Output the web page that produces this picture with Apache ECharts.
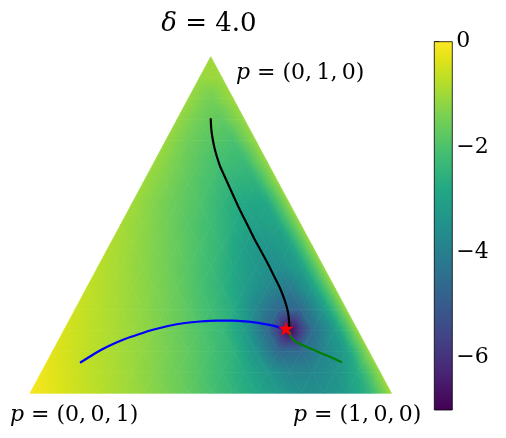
<!DOCTYPE html>
<html><head><meta charset="utf-8">
<script src="https://cdn.jsdelivr.net/npm/echarts@6/dist/echarts.min.js"></script>
<style>html,body{margin:0;padding:0;background:#fff}#c{width:506px;height:438px}</style>
</head><body><div id="c"></div>
<script>
// ---- data ----
const N = 16; // grid subdivisions of the simplex
// field values (log scale) on barycentric grid; row j => p2=j/N (bottom to top), entry i => p1=i/N
const fieldRows = [
 [-0.05,-0.3,-0.55,-0.75,-0.95,-1.15,-1.4,-1.7,-2.05,-2.45,-2.85,-3.25,-3.55,-3.55,-3.2,-2.5,-0.95],
 [-0.2,-0.44,-0.66,-0.86,-1.06,-1.3,-1.58,-1.9,-2.3,-2.75,-3.3,-3.85,-3.8,-3.5,-2.7,-1.1],
 [-0.33,-0.57,-0.77,-0.97,-1.17,-1.42,-1.72,-2.07,-2.5,-3.4,-4.6,-4.55,-3.85,-3.1,-1.1],
 [-0.45,-0.66,-0.86,-1.07,-1.3,-1.6,-1.93,-2.3,-3.15,-4.6,-7.0,-4.5,-3.25,-1.1],
 [-0.55,-0.77,-0.97,-1.2,-1.47,-1.8,-2.2,-2.7,-3.8,-4.65,-4.55,-3.25,-1.1],
 [-0.65,-0.87,-1.08,-1.33,-1.63,-2.05,-2.5,-3.15,-3.75,-4.15,-3.15,-1.1],
 [-0.75,-0.97,-1.22,-1.5,-1.85,-2.25,-2.8,-3.35,-3.6,-3.1,-1.1],
 [-0.85,-1.08,-1.35,-1.65,-2.02,-2.45,-3.1,-3.4,-3.05,-1.1],
 [-0.93,-1.2,-1.5,-1.85,-2.2,-2.7,-3.1,-2.9,-1.1],
 [-1.0,-1.33,-1.65,-1.95,-2.45,-2.85,-2.85,-1.1],
 [-1.05,-1.37,-1.75,-2.1,-2.5,-2.55,-1.1],
 [-1.08,-1.45,-1.85,-2.15,-2.3,-1.1],
 [-1.1,-1.55,-1.85,-2.05,-1.1],
 [-1.1,-1.55,-1.75,-1.1],
 [-1.1,-1.5,-1.05],
 [-1.1,-1.05],
 [-1.0]
];
// trajectories as [p1, p2] (p3 = 1 - p1 - p2)
const blackPath = [[0.0914,0.8170],[0.1071,0.7882],[0.1256,0.7585],[0.1460,0.7288],[0.1663,0.7020],[0.1879,0.6753],[0.2124,0.6485],[0.2397,0.6188],[0.2698,0.5862],[0.3000,0.5535],[0.3316,0.5208],[0.3631,0.4881],[0.3947,0.4554],[0.4305,0.4198],[0.4663,0.3841],[0.5007,0.3485],[0.5323,0.3158],[0.5582,0.2861],[0.5798,0.2594],[0.5967,0.2356],[0.6091,0.2148],[0.6185,0.1970],[0.6131,0.1901]];
const bluePath = [[0.0929,0.0909],[0.1113,0.1093],[0.1300,0.1272],[0.1543,0.1450],[0.1821,0.1613],[0.2114,0.1747],[0.2459,0.1887],[0.2818,0.1999],[0.3243,0.2089],[0.3636,0.2133],[0.4094,0.2157],[0.4509,0.2157],[0.4878,0.2139],[0.5260,0.2094],[0.5563,0.2041],[0.5810,0.1990],[0.6006,0.1931],[0.6131,0.1901]];
const greenPath = [[0.6131,0.1901],[0.6268,0.1821],[0.6355,0.1702],[0.6498,0.1583],[0.6667,0.1494],[0.7010,0.1361],[0.7419,0.1206],[0.7825,0.1058],[0.8170,0.0921]];
const starPoint = [0.6131, 0.1901];
const colorbarTicks = [0, -2, -4, -6];
const vmin = -7, vmax = 0;
const titleText = '{i|δ} = 4.0';
const vertexLabels = ['{i|p} = (0,\u20091,\u20090)', '{i|p} = (0,\u20090,\u20091)', '{i|p} = (1,\u20090,\u20090)'];

// ---- colormap (viridis) ----
const viridisStops = [[0.0,'#440154'],[0.05,'#471164'],[0.1,'#482475'],[0.2,'#414487'],[0.3,'#355f8d'],[0.4,'#2a788e'],[0.5,'#21918c'],[0.6,'#22a884'],[0.7,'#44bf70'],[0.8,'#7ad151'],[0.9,'#bddf26'],[0.95,'#dfe318'],[1.0,'#fde725']];
const rgbStops = viridisStops.map(s => [s[0], parseInt(s[1].slice(1,3),16), parseInt(s[1].slice(3,5),16), parseInt(s[1].slice(5,7),16)]);
function viridis(t){
  t = Math.max(0, Math.min(1, t));
  for (let k = 1; k < rgbStops.length; k++){
    if (t <= rgbStops[k][0]){
      const a = rgbStops[k-1], b = rgbStops[k];
      const f = (t - a[0]) / (b[0] - a[0]);
      return 'rgb(' + Math.round(a[1]+(b[1]-a[1])*f) + ',' + Math.round(a[2]+(b[2]-a[2])*f) + ',' + Math.round(a[3]+(b[3]-a[3])*f) + ')';
    }
  }
  return viridisStops[viridisStops.length-1][1];
}
function colorOf(v){ return viridis((v - vmin) / (vmax - vmin)); }

// ---- simplex geometry ----
function toXY(p){ return [p[0] + p[1] / 2, p[1]]; }
const triangles = [];
for (let j = 0; j < N; j++) for (let i = 0; i + j < N; i++){
  triangles.push([[i,j],[i+1,j],[i,j+1]]);
  if (i + j < N - 1) triangles.push([[i+1,j],[i,j+1],[i+1,j+1]]);
}
function nodeXY(n){ return toXY([n[0] / N, n[1] / N]); }
function nodeVal(n){ return fieldRows[n[1]][n[0]]; }
const triData = triangles.map((t, k) => {
  const c = t.map(nodeXY);
  return [(c[0][0]+c[1][0]+c[2][0]) / 3, (c[0][1]+c[1][1]+c[2][1]) / 3, k];
});

function shadeFill(P, V){
  const e1x = P[1][0]-P[0][0], e1y = P[1][1]-P[0][1];
  const e2x = P[2][0]-P[0][0], e2y = P[2][1]-P[0][1];
  const d1 = V[1]-V[0], d2 = V[2]-V[0];
  const det = e1x*e2y - e1y*e2x;
  const gx = (d1*e2y - e1y*d2) / det;
  const gy = (e1x*d2 - d1*e2x) / det;
  const gn = Math.hypot(gx, gy);
  if (!isFinite(gn) || gn < 1e-9) return colorOf((V[0]+V[1]+V[2]) / 3);
  const ux = gx / gn, uy = gy / gn;
  const s = P.map(p => (p[0]-P[0][0])*ux + (p[1]-P[0][1])*uy);
  const smin = Math.min.apply(null, s), smax = Math.max.apply(null, s);
  const va = V[0] + smin*gn, vb = V[0] + smax*gn;
  const n = Math.max(2, Math.ceil((vb - va) / 0.12) + 1);
  const stops = [];
  for (let k = 0; k < n; k++){
    const f = k / (n - 1);
    stops.push({offset: f, color: colorOf(va + f*(vb - va))});
  }
  return new echarts.graphic.LinearGradient(P[0][0]+smin*ux, P[0][1]+smin*uy, P[0][0]+smax*ux, P[0][1]+smax*uy, stops, true);
}

const serif = 'DejaVu Serif';
const chart = echarts.init(document.getElementById('c'));
const starSymbol = 'path://M100,0 L122.45,69.1 L195.1,69.1 L136.33,111.8 L158.78,180.9 L100,138.2 L41.22,180.9 L63.67,111.8 L4.9,69.1 L77.55,69.1 Z';

chart.setOption({
  animation: false,
  backgroundColor: '#fff',
  grid: [
    {left: 30, top: 56.7, width: 361.5, height: 336.6},
    {left: 434.3, top: 41.7, width: 18, height: 368.3}
  ],
  xAxis: [
    {type: 'value', min: 0, max: 1, show: false, gridIndex: 0},
    {type: 'value', min: 0, max: 1, show: false, gridIndex: 1}
  ],
  yAxis: [
    {type: 'value', min: 0, max: 1, show: false, gridIndex: 0},
    {type: 'value', min: vmin, max: vmax, gridIndex: 1, position: 'right',
     axisLine: {show: false}, splitLine: {show: false},
     axisTick: {show: true, inside: false, length: 5, customValues: colorbarTicks, lineStyle: {color: '#000', width: 0.8}},
     axisLabel: {show: true, margin: 4, customValues: colorbarTicks, color: '#000', fontFamily: serif, fontSize: 22,
       formatter: v => (v < 0 ? '\u2212' + Math.abs(v) : String(v))}}
  ],
  series: [
    {type: 'custom', xAxisIndex: 0, yAxisIndex: 0, data: triData, encode: {x: 0, y: 1}, silent: true, z: 1,
     renderItem: function(params, api){
       const t = triangles[api.value(2)];
       const P = t.map(n => api.coord(nodeXY(n)));
       const V = t.map(nodeVal);
       const fill = shadeFill(P, V);
       return {type: 'polygon', shape: {points: P}, style: {fill: fill, stroke: fill, lineWidth: 0.7, lineJoin: 'round'}};
     }},
    {type: 'line', xAxisIndex: 0, yAxisIndex: 0, data: blackPath.map(toXY), showSymbol: false, smooth: 0.2, z: 3,
     lineStyle: {color: '#000000', width: 2.2}, silent: true},
    {type: 'line', xAxisIndex: 0, yAxisIndex: 0, data: bluePath.map(toXY), showSymbol: false, smooth: 0.2, z: 3,
     lineStyle: {color: '#0000ff', width: 2.2}, silent: true},
    {type: 'line', xAxisIndex: 0, yAxisIndex: 0, data: greenPath.map(toXY), showSymbol: false, smooth: 0.2, z: 3,
     lineStyle: {color: '#008000', width: 2.2}, silent: true},
    {type: 'scatter', xAxisIndex: 0, yAxisIndex: 0, data: [toXY(starPoint)], symbol: starSymbol, symbolSize: [15.5, 14.7],
     symbolOffset: [0, -0.8], itemStyle: {color: '#ff0000', opacity: 1}, z: 5, silent: true},
    {type: 'custom', xAxisIndex: 1, yAxisIndex: 1, data: [[0.5, (vmin + vmax) / 2]], silent: true,
     renderItem: function(params, api){
       const a = api.coord([0, vmax]), b = api.coord([1, vmin]);
       const stops = viridisStops.map(s => ({offset: 1 - s[0], color: s[1]})).reverse();
       const grad = new echarts.graphic.LinearGradient(0, a[1], 0, b[1], stops, true);
       return {type: 'rect', shape: {x: a[0], y: a[1], width: b[0] - a[0], height: b[1] - a[1]},
               style: {fill: grad, stroke: '#000', lineWidth: 0.8}};
     }}
  ],
  graphic: [
    {type: 'text', x: 209, y: 24, silent: true,
     style: {text: titleText, fill: '#000', fontFamily: serif, fontSize: 26,
       align: 'center', verticalAlign: 'middle', textAlign: 'center', textVerticalAlign: 'middle',
       rich: {i: {fontStyle: 'italic', fontFamily: serif, fontSize: 26, fill: '#000'}}}},
    {type: 'text', x: 236, y: 73, silent: true,
     style: {text: vertexLabels[0], fill: '#000', fontFamily: serif, fontSize: 22,
       align: 'left', verticalAlign: 'middle', textAlign: 'left', textVerticalAlign: 'middle',
       rich: {i: {fontStyle: 'italic', fontFamily: serif, fontSize: 22, fill: '#000'}}}},
    {type: 'text', x: 10, y: 415, silent: true,
     style: {text: vertexLabels[1], fill: '#000', fontFamily: serif, fontSize: 22,
       align: 'left', verticalAlign: 'middle', textAlign: 'left', textVerticalAlign: 'middle',
       rich: {i: {fontStyle: 'italic', fontFamily: serif, fontSize: 22, fill: '#000'}}}},
    {type: 'text', x: 293, y: 415, silent: true,
     style: {text: vertexLabels[2], fill: '#000', fontFamily: serif, fontSize: 22,
       align: 'left', verticalAlign: 'middle', textAlign: 'left', textVerticalAlign: 'middle',
       rich: {i: {fontStyle: 'italic', fontFamily: serif, fontSize: 22, fill: '#000'}}}}
  ]
});
</script>
</body></html>
